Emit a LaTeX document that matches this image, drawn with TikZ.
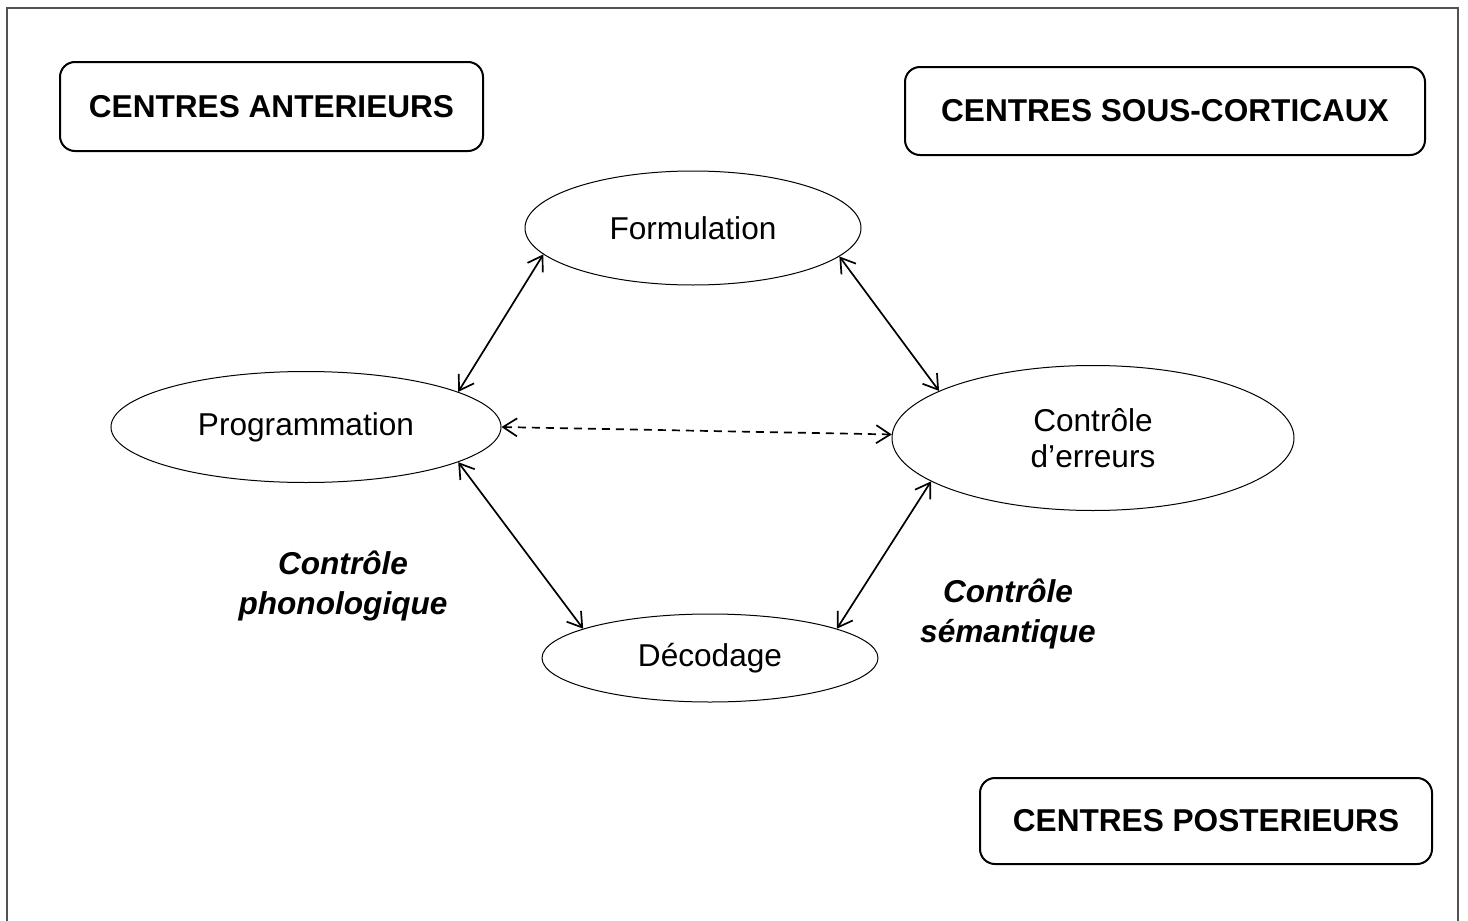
\documentclass[tikz,border=0pt]{standalone}
\usepackage{fontspec}
\setmainfont{Liberation Sans}
\usetikzlibrary{shapes.geometric,arrows.meta}
\begin{document}
\begin{tikzpicture}[x=0.5pt,y=-0.5pt,
  every node/.style={font=\fontsize{15.8}{18}\selectfont},
  centrebox/.style={draw,line width=1pt,rounded corners=7.5pt,inner sep=0pt,font=\fontsize{15.8}{18}\selectfont\bfseries},
  oval/.style={draw,ellipse,line width=0.5pt,inner sep=0pt,align=center},
  link/.style={line width=0.85pt,{Straight Barb[length=7pt,width=9pt]}-{Straight Barb[length=7pt,width=9pt]}},
  dlink/.style={link,dash pattern=on 4pt off 3pt},
  ctrl/.style={align=center,font=\fontsize{15.8}{19.8}\selectfont\bfseries\itshape}]
\useasboundingbox (0,0) rectangle (1468,921);
\draw[line width=1pt,color=black!68] (7,921) -- (7,8) -- (1458,8) -- (1458,921);
\node[centrebox,minimum width=211.5pt,minimum height=44.5pt] (ant) at (271.5,106.5) {CENTRES ANTERIEURS};
\node[centrebox,minimum width=260pt,minimum height=44pt] (sous) at (1165,111) {CENTRES SOUS-CORTICAUX};
\node[centrebox,minimum width=226pt,minimum height=43pt] (post) at (1206,821) {CENTRES POSTERIEURS};
\node[oval,minimum width=168pt,minimum height=57pt] (form) at (693,228) {Formulation};
\node[oval,minimum width=195pt,minimum height=55.5pt] (prog) at (306,427) {Programmation};
\node[oval,minimum width=201pt,minimum height=72.5pt] (ctl) at (1093,438) {Contrôle\\d’erreurs};
\node[oval,minimum width=168pt,minimum height=44pt] (dec) at (710,658) {Décodage};
\node[ctrl] (phon) at (343,586) {Contrôle\\phonologique};
\node[ctrl] (sem) at (1008,614) {Contrôle\\sémantique};
\draw[link] (form.190) -- (prog.13.6);
\draw[link] (form.349) -- (ctl.163.2);
\draw[dlink] (prog.0) -- (ctl.179);
\draw[link] (prog.347) -- (dec.167.7);
\draw[link] (ctl.195.1) -- (dec.13.3);
\end{tikzpicture}
\end{document}
